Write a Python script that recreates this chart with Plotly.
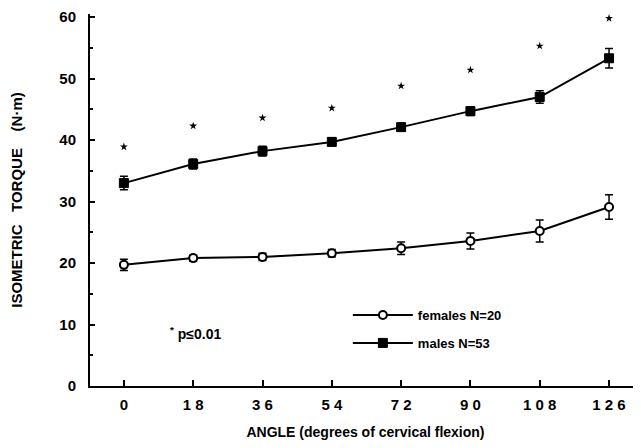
import plotly.graph_objects as go

angles = [0, 18, 36, 54, 72, 90, 108, 126]
tick_labels = ["0", "1 8", "3 6", "5 4", "7 2", "9 0", "1 0 8", "1 2 6"]

males = [33.0, 36.1, 38.2, 39.7, 42.1, 44.7, 47.0, 53.3]
males_err = [1.1, 0.8, 0.8, 0.6, 0.6, 0.7, 1.0, 1.6]
females = [19.7, 20.8, 21.0, 21.6, 22.4, 23.6, 25.2, 29.1]
females_err = [0.9, 0.5, 0.6, 0.6, 1.0, 1.3, 1.8, 2.0]
signif_y = [38.9, 42.3, 43.6, 45.2, 48.8, 51.4, 55.3, 59.8]

FAM = "Liberation Sans, Arial, sans-serif"
font_tick = dict(family=FAM, size=15, color="black", weight="bold")
font_title = dict(family=FAM, size=14, color="black", weight="bold")
NB = "\u00a0"

fig = go.Figure()
fig.add_trace(go.Scatter(
    x=angles, y=females, mode="lines+markers", name="females N=20",
    legendgroup="f",
    line=dict(color="black", width=2),
    marker=dict(symbol="circle", size=8, color="white", line=dict(color="black", width=2)),
    error_y=dict(type="data", array=females_err, color="black", thickness=1.5, width=4),
))
fig.add_trace(go.Scatter(
    x=angles, y=males, mode="lines+markers", name="males N=53",
    legendgroup="m",
    line=dict(color="black", width=2),
    marker=dict(symbol="square", size=9, color="black", line=dict(color="black", width=1)),
    error_y=dict(type="data", array=males_err, color="black", thickness=1.5, width=4),
))
fig.add_trace(go.Scatter(
    x=angles, y=signif_y, mode="markers", showlegend=False,
    marker=dict(symbol="star", size=6, color="black"),
))

fig.add_annotation(x=11.5, y=8.6, xref="x", yref="y", xanchor="left", showarrow=False,
                   text="<sup>*</sup> p≤0.01", font=dict(family=FAM, size=14, color="black", weight="bold"))

fig.update_xaxes(
    range=[-8.8, 134.3], tickvals=angles, ticktext=tick_labels,
    showline=True, linecolor="black", linewidth=2, ticks="inside", ticklen=6, tickwidth=2, tickcolor="black",
    showgrid=False, zeroline=False, tickfont=font_tick, automargin=False, ticklabelstandoff=4,
    title=dict(text="ANGLE (degrees of cervical flexion)", font=font_title, standoff=15),
)
fig.update_yaxes(
    range=[0, 60.5], tickvals=[0, 10, 20, 30, 40, 50, 60],
    showline=True, linecolor="black", linewidth=2, ticks="inside", ticklen=5, tickwidth=2, tickcolor="black",
    minor=dict(ticks="inside", ticklen=3, tickwidth=1.5, tickcolor="black", dtick=5, showgrid=False),
    showgrid=False, zeroline=False, tickfont=font_tick, automargin=False, ticklabelstandoff=9,
    title=dict(text="ISOMETRIC" + NB * 3 + "TORQUE" + NB * 4 + "(N·m)",
               font=dict(family=FAM, size=15, color="black", weight="bold"), standoff=33),
)
fig.update_layout(
    width=633, height=440,
    margin=dict(l=82, r=0, t=6, b=62),
    plot_bgcolor="white", paper_bgcolor="white",
    showlegend=True,
    legend=dict(x=0.468, y=0.231, xanchor="left", yanchor="top", bgcolor="rgba(0,0,0,0)",
                font=dict(family=FAM, size=13, color="black", weight="bold"),
                tracegroupgap=8, traceorder="grouped", itemwidth=60),
)
fig.write_html("out.html")
